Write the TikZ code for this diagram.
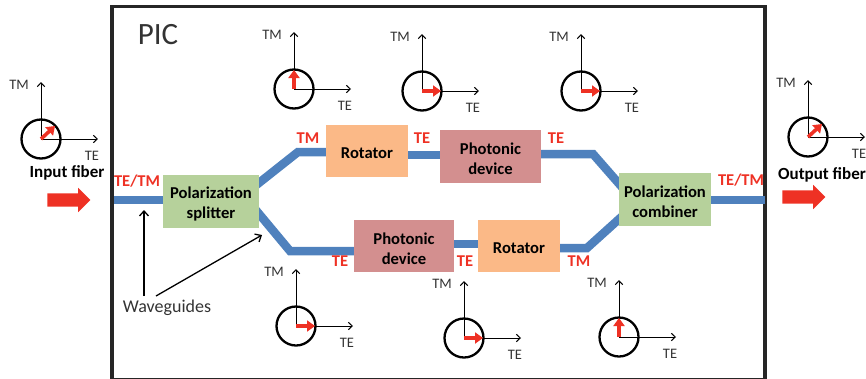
\documentclass[tikz,border=0pt]{standalone}
\usepackage{fontspec}
\setmainfont{Carlito}
\usetikzlibrary{arrows.meta,shapes.arrows}
\definecolor{wg}{HTML}{4F81BD}
\definecolor{redl}{HTML}{EE3124}
\definecolor{greenb}{HTML}{B6D19B}
\definecolor{orangeb}{HTML}{FBB987}
\definecolor{pinkb}{HTML}{D38F8F}
\definecolor{txt}{HTML}{333333}
\newcommand{\dn}[1]{\raisebox{-2.5pt}[\height][\depth]{#1}}
\tikzset{
 wguide/.style={draw=wg,line width=8.5pt,line join=miter},
 blockbox/.style={anchor=center,align=center,font=\fontsize{16.6}{20}\selectfont\bfseries,text=black,inner sep=0pt,outer sep=0pt},
 redlabel/.style={text=redl,font=\fontsize{16.5}{18}\selectfont\bfseries,inner sep=0pt},
 axlabel/.style={text=txt,font=\fontsize{14.5}{16}\selectfont,inner sep=0pt},
 axisline/.style={draw=black,line width=1pt,-{Straight Barb[length=4pt,width=7.5pt,line width=1pt]}},
 ringc/.style={circle,draw=black,line width=2.3pt,minimum size=39pt,inner sep=0pt},
 redarrow/.style={draw=redl,line width=3.6pt,-{Triangle[length=8pt,width=11pt]}},
 blockarrow/.style={single arrow,fill=redl,draw=none,minimum height=43pt,single arrow head extend=5.5pt,single arrow head indent=0pt,inner sep=6.5pt,outer sep=0pt},
 callout/.style={draw=black,line width=1.3pt,-{Straight Barb[length=5pt,width=9pt,line width=1.3pt]}}
}
% name, x, y, red tip dx, red tip dy
\newcommand{\polarpic}[5]{%
 \coordinate (#1c) at (#2,#3);
 \coordinate (#1y) at (#2,#3-57);
 \coordinate (#1x) at (#2+57,#3);
 \coordinate (#1r) at (#2+#4,#3+#5);
 \node[ringc] (#1o) at (#1c) {};
 \node[axlabel] (#1m) at (#2-22,#3-54) {TM};
 \node[axlabel] (#1e) at (#2+51,#3+17) {TE};
 \draw[axisline] (#1c) -- (#1y);
 \draw[axisline] (#1c) -- (#1x);
 \draw[redarrow] (#1c) -- (#1r);
}
\begin{document}
\begin{tikzpicture}[x=1pt,y=-1pt]
\useasboundingbox (0,0) rectangle (866,378);
\clip (0,0) rectangle (866,378);
% frame
\node[draw=black!85,line width=3.8pt,minimum width=653pt,minimum height=373.5pt,inner sep=0pt,outer sep=0pt,anchor=center] (frame) at (438.5,193.25) {};
\node[text=txt,font=\fontsize{31}{33}\selectfont,inner sep=0pt] (pic) at (158,35) {PIC};
% waveguides
\coordinate (inw) at (114,200);
\coordinate (outw) at (765,200);
\coordinate (splitw) at (170,200);
\coordinate (combw) at (700,200);
\coordinate (u1) at (298,152);
\coordinate (u2) at (593,154);
\coordinate (l1) at (290,251);
\coordinate (l2) at (587,248);
\coordinate (sa) at (250,190);
\coordinate (sb) at (250,203);
\coordinate (ca) at (628,194);
\coordinate (cb) at (628,211);
\coordinate (r1a) at (340,152);
\coordinate (m1a) at (400,155);
\coordinate (m1b) at (450,155);
\coordinate (p1b) at (530,154);
\coordinate (p2a) at (365,251);
\coordinate (m2a) at (445,244);
\coordinate (m2b) at (490,244);
\coordinate (r2b) at (550,248);
\draw[wguide] (inw) -- (splitw);
\draw[wguide] (combw) -- (outw);
\draw[wguide] (sa) -- (u1) -- (r1a);
\draw[wguide] (m1a) -- (m1b);
\draw[wguide] (p1b) -- (u2) -- (ca);
\draw[wguide] (sb) -- (l1) -- (p2a);
\draw[wguide] (m2a) -- (m2b);
\draw[wguide] (r2b) -- (l2) -- (cb);
% boxes
\node[fill=greenb,minimum width=96pt,minimum height=53pt,blockbox] (split) at (211,201.5) {\dn{Polarization}\\\dn{splitter}};
\node[fill=greenb,minimum width=92pt,minimum height=53pt,blockbox] (comb) at (665,199.5) {\dn{Polarization}\\\dn{combiner}};
\node[fill=orangeb,minimum width=82pt,minimum height=52pt,blockbox] (rot1) at (367,151) {\dn{Rotator}};
\node[fill=pinkb,minimum width=101pt,minimum height=53pt,blockbox] (ph1) at (490.5,156.5) {\dn{Photonic}\\\dn{device}};
\node[fill=pinkb,minimum width=100pt,minimum height=52pt,blockbox] (ph2) at (404,246) {\dn{Photonic}\\\dn{device}};
\node[fill=orangeb,minimum width=82pt,minimum height=52pt,blockbox] (rot2) at (519,246) {\dn{Rotator}};
% red labels
\node[redlabel] (l1a) at (137,181) {TE/TM};
\node[redlabel] (l2a) at (308,138.5) {TM};
\node[redlabel] (l3a) at (422,138.5) {TE};
\node[redlabel] (l4a) at (556,138.5) {TE};
\node[redlabel] (l5a) at (741,180) {TE/TM};
\node[redlabel] (l6a) at (340,261) {TE};
\node[redlabel] (l7a) at (465,261) {TE};
\node[redlabel] (l8a) at (579,261) {TM};
% fibers
\node[font=\fontsize{17}{19}\selectfont\bfseries,inner sep=0pt] (inf) at (67,173) {Input fiber};
\node[font=\fontsize{17}{19}\selectfont\bfseries,inner sep=0pt] (outf) at (822,175) {Output fiber};
\node[blockarrow] (ina) at (65.5,200) {};
\node[blockarrow] (outa) at (800.5,197) {};
% waveguides callout
\node[text=txt,font=\fontsize{18}{20}\selectfont,inner sep=0pt] (wl) at (167,308) {Waveguides};
\coordinate (w1) at (144,210);
\coordinate (w2) at (262,235);
\draw[callout] (144,296) -- (w1);
\draw[callout] (156,296) -- (w2);
% polarisation diagrams
\polarpic{a}{41}{139}{14}{-13}
\polarpic{b}{294}{89}{0}{-19}
\polarpic{c}{422}{91}{19}{0}
\polarpic{d}{581}{91}{19}{0}
\polarpic{e}{296}{326}{19}{0}
\polarpic{f}{464}{338}{19}{0}
\polarpic{g}{619}{337}{0}{-19}
\polarpic{h}{808}{137}{14}{-13}
\end{tikzpicture}
\end{document}
